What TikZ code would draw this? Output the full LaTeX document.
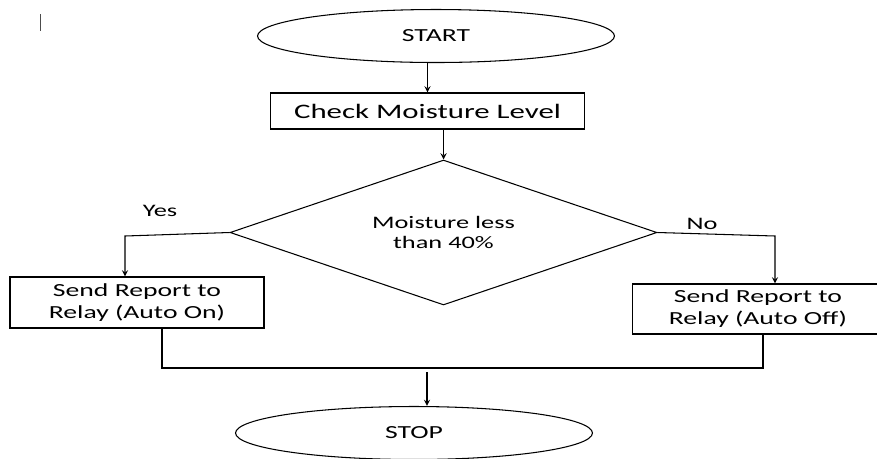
\documentclass[tikz,border=0pt]{standalone}
\usepackage{fontspec}
\setmainfont{Carlito}[FakeStretch=1.5]
\usetikzlibrary{shapes.geometric}

\begin{document}
\begin{tikzpicture}[x=0.02cm,y=-0.02cm,>=stealth,line width=0.6pt,
  term/.style={draw,ellipse,minimum width=7.14cm,minimum height=1.06cm,inner sep=0pt,font=\fontsize{10.5}{12.5}\selectfont},
  proc/.style={draw,rectangle,inner sep=0pt,align=center,font=\fontsize{10.5}{12.5}\selectfont},
  decide/.style={draw,diamond,aspect=2.94,minimum width=8.54cm,minimum height=2.9cm,inner sep=0pt,align=center,font=\fontsize{10}{11.5}\selectfont},
  lbl/.style={font=\fontsize{10}{12}\selectfont}]
\useasboundingbox (0,0) rectangle (877,458);
\draw[line width=0.5pt,black!70] (40,14) -- (40,31);
\node[term] (start) at (436,36) {START};
\node[proc,minimum width=6.3cm,minimum height=0.72cm,font=\fontsize{11.7}{14}\selectfont] (chk) at (427.5,111) {Check Moisture Level};
\node[decide] (dia) at (443.5,232.5) {Moisture less\\than 40\%};
\node[proc,minimum width=5.08cm,minimum height=1.02cm] (onbox) at (137,302.5) {Send Report to\\Relay (Auto On)};
\node[proc,minimum width=5.04cm,minimum height=1.0cm] (offbox) at (758,309) {Send Report to\\Relay (Auto Off)};
\node[term] (stop) at (414,433) {STOP};
\node[lbl] (yes) at (160,211) {Yes};
\node[lbl] (no) at (702,224) {No};
% corners of the connectors
\coordinate (ycorner) at (125,236);
\coordinate (ncorner) at (775,236);
\coordinate (lmerge) at (162,368);
\coordinate (rmerge) at (763,368);
\coordinate (mdown) at (427,372);
\draw[->] (chk.north |- start.south) -- (chk.north);
\draw[->] (dia.north |- chk.south) -- (dia.north);
\draw[->] (dia.west) -- (ycorner) -- (ycorner |- onbox.north);
\draw[->] (dia.east) -- (ncorner) -- (ncorner |- offbox.north);
\draw (lmerge |- onbox.south) -- (lmerge) -- (rmerge) -- (rmerge |- offbox.south);
\draw[->] (mdown) -- (mdown |- stop.north);
\end{tikzpicture}
\end{document}
